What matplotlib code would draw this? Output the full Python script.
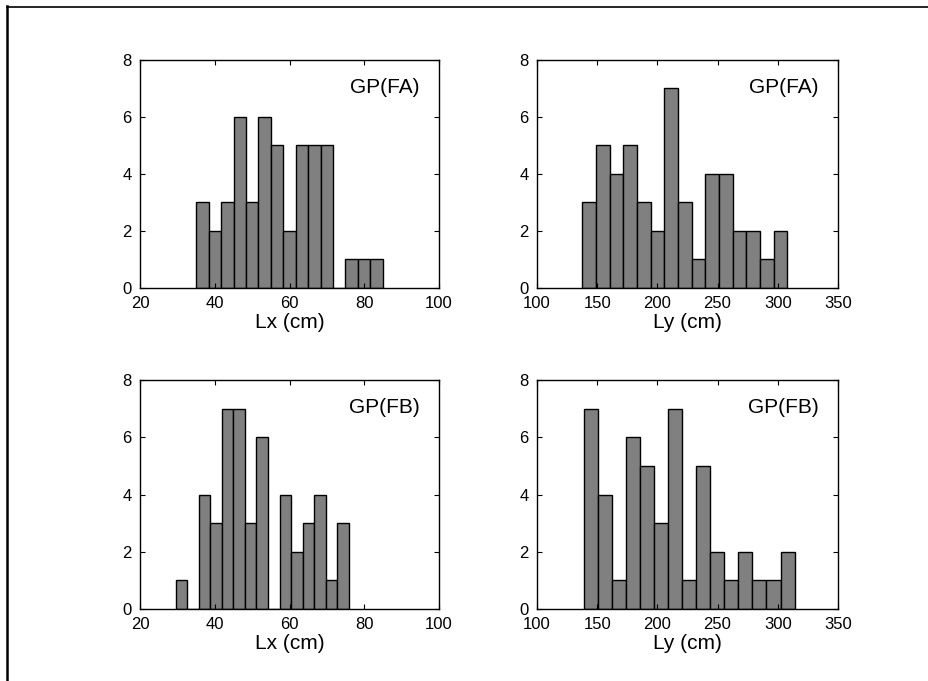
import numpy as np
import matplotlib
matplotlib.use("Agg")
import matplotlib.pyplot as plt
from matplotlib.lines import Line2D

plt.rcParams['font.family'] = ['Liberation Sans', 'DejaVu Sans']

# histogram counts (15 bins each, min..max)
lx_fa_counts = [3, 2, 3, 6, 3, 6, 5, 2, 5, 5, 5, 0, 1, 1, 1]
lx_fa_range = (35.1, 84.9)
ly_fa_counts = [3, 5, 4, 5, 3, 2, 7, 3, 1, 4, 4, 2, 2, 1, 2]
ly_fa_range = (137.7, 307.9)
lx_fb_counts = [1, 0, 4, 3, 7, 7, 3, 6, 0, 4, 2, 3, 4, 1, 3]
lx_fb_range = (29.5, 75.9)
ly_fb_counts = [7, 4, 1, 6, 5, 3, 7, 1, 5, 2, 1, 2, 1, 1, 2]
ly_fb_range = (138.8, 314.0)

lx_ticks = [20, 40, 60, 80, 100]
ly_ticks = [100, 150, 200, 250, 300, 350]
y_ticks = [0, 2, 4, 6, 8]

panels = [
    # counts, range, xticks, xlabel, tag, [left, bottom, width, height]
    (lx_fa_counts, lx_fa_range, lx_ticks, 'Lx (cm)', 'GP(FA)', [0.1507, 0.5771, 0.3219, 0.3348]),
    (ly_fa_counts, ly_fa_range, ly_ticks, 'Ly (cm)', 'GP(FA)', [0.5780, 0.5771, 0.3240, 0.3348]),
    (lx_fb_counts, lx_fb_range, lx_ticks, 'Lx (cm)', 'GP(FB)', [0.1507, 0.1057, 0.3219, 0.3363]),
    (ly_fb_counts, ly_fb_range, ly_ticks, 'Ly (cm)', 'GP(FB)', [0.5780, 0.1057, 0.3240, 0.3363]),
]

fig = plt.figure(figsize=(9.29, 6.81), dpi=100)

for counts, rng, xticks, xlabel, tag, rect in panels:
    ax = fig.add_axes(rect)
    edges = np.linspace(rng[0], rng[1], len(counts) + 1)
    ax.bar(edges[:-1], counts, width=np.diff(edges), align='edge',
           color='#808080', edgecolor='black', linewidth=1.0)
    ax.set_xlim(xticks[0], xticks[-1])
    ax.set_ylim(0, 8)
    ax.set_xticks(xticks)
    ax.set_yticks(y_ticks)
    ax.tick_params(direction='in', top=True, right=True, length=3.5,
                   width=0.8, labelsize=12, pad=6)
    for s in ax.spines.values():
        s.set_linewidth(1.0)
    ax.set_xlabel(xlabel, fontsize=15, labelpad=1)
    ax.text(0.935, 0.88, tag, transform=ax.transAxes, ha='right',
            va='center', fontsize=15)

# frame lines at top and left of the figure
fig.add_artist(Line2D([7 / 929, 928 / 929], [1 - 6.5 / 681, 1 - 6.5 / 681],
                      color='black', linewidth=1.2))
fig.add_artist(Line2D([7.5 / 929, 7.5 / 929], [0, 1 - 6 / 681],
                      color='black', linewidth=1.8))

fig.savefig('out.png', dpi=100)
